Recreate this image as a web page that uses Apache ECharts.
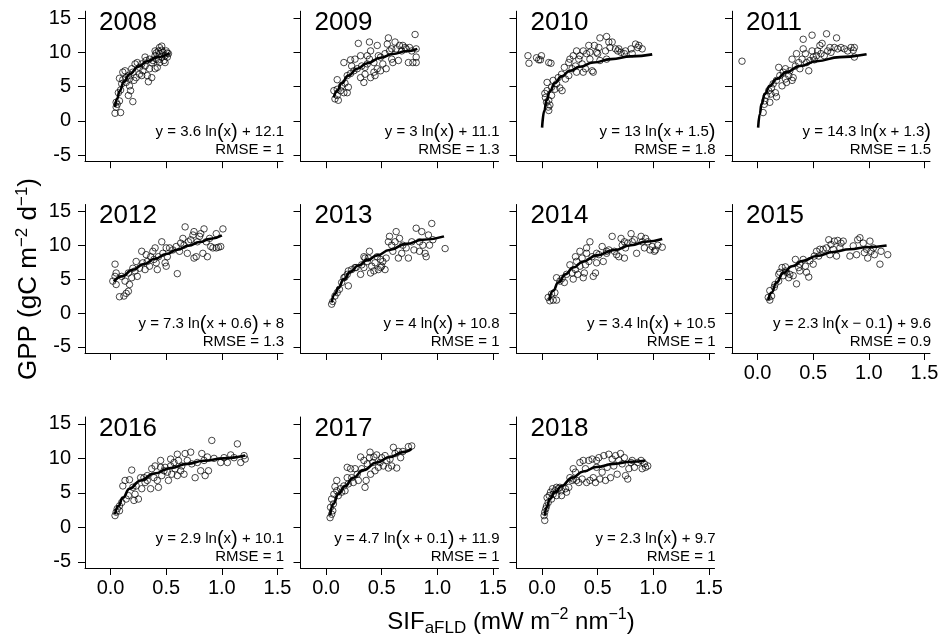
<!DOCTYPE html>
<html><head><meta charset="utf-8">
<script src="https://cdn.jsdelivr.net/npm/echarts@6/dist/echarts.min.js"></script>
<style>html,body{margin:0;padding:0;background:#fff}#c{width:939px;height:639px}</style>
</head><body><div id="c"></div>
<script>
const years = ['2008','2009','2010','2011','2012','2013','2014','2015','2016','2017','2018'];
const equations = ['y = 3.6 ln(x) + 12.1','y = 3 ln(x) + 11.1','y = 13 ln(x + 1.5)','y = 14.3 ln(x + 1.3)',
  'y = 7.3 ln(x + 0.6) + 8','y = 4 ln(x) + 10.8','y = 3.4 ln(x) + 10.5','y = 2.3 ln(x \u2212 0.1) + 9.6',
  'y = 2.9 ln(x) + 10.1','y = 4.7 ln(x + 0.1) + 11.9','y = 2.3 ln(x) + 9.7'];
const rmse = ['1','1.3','1.8','1.5','1.3','1','1','0.9','1','1','1'];
const xTicks = [0, 0.5, 1, 1.5];
const yTicks = [-5, 0, 5, 10, 15];

const pts2008 = [[0.04,1.1],[0.09,1.2],[0.05,2.0],[0.06,2.4],[0.05,2.7],[0.08,2.9],[0.07,4.1],[0.09,4.5],[0.08,6.2],[0.11,6.0],[0.13,7.3],[0.16,6.6],[0.14,5.6],[0.17,5.1],[0.16,3.7],[0.20,2.8],[0.18,4.4],[0.21,5.9],[0.23,6.3],[0.20,7.1],[0.19,7.6],[0.26,6.8],[0.26,7.8],[0.24,8.5],[0.28,8.3],[0.31,8.0],[0.33,6.6],[0.34,5.7],[0.37,6.3],[0.32,8.8],[0.35,9.0],[0.38,8.8],[0.40,9.5],[0.41,9.0],[0.43,10.2],[0.44,9.8],[0.46,10.9],[0.47,10.0],[0.49,9.5],[0.50,10.2],[0.51,9.3],[0.52,9.8],[0.48,8.8],[0.44,8.5],[0.42,7.8],[0.40,7.6],[0.43,8.9],[0.46,9.3],[0.49,8.5],[0.40,10.2],[0.37,8.5],[0.29,7.3],[0.22,8.3],[0.14,6.3],[0.10,5.4],[0.11,7.1],[0.17,6.1],[0.28,6.6],[0.35,7.6],[0.31,9.3],[0.46,10.3],[0.51,9.9],[0.41,9.9],[0.44,10.7]];
const pts2009 = [[0.08,3.2],[0.11,3.0],[0.10,3.7],[0.07,4.4],[0.10,4.6],[0.13,4.4],[0.16,4.1],[0.19,4.1],[0.20,4.9],[0.17,5.5],[0.14,5.1],[0.10,6.0],[0.19,6.6],[0.22,6.9],[0.25,7.3],[0.23,8.0],[0.16,8.5],[0.22,8.9],[0.26,9.0],[0.31,9.5],[0.29,11.3],[0.34,5.6],[0.31,6.3],[0.32,8.0],[0.35,7.8],[0.37,8.3],[0.39,9.0],[0.40,10.2],[0.39,11.5],[0.40,6.3],[0.43,7.1],[0.44,6.6],[0.46,7.6],[0.46,11.0],[0.47,9.5],[0.49,9.3],[0.51,8.3],[0.54,7.6],[0.55,11.2],[0.56,12.1],[0.57,10.2],[0.59,9.0],[0.60,8.5],[0.62,11.5],[0.63,10.5],[0.65,8.8],[0.66,11.0],[0.69,11.0],[0.71,10.7],[0.72,10.5],[0.74,8.5],[0.75,10.7],[0.77,10.2],[0.78,8.5],[0.80,12.6],[0.81,10.5],[0.81,9.3],[0.81,8.5],[0.35,6.8],[0.28,7.6],[0.49,7.3],[0.37,9.5],[0.53,9.8],[0.59,10.5],[0.68,10.2],[0.43,8.5]];
const pts2010 = [[-0.127,9.5],[-0.118,8.4],[-0.05,9.2],[-0.03,8.9],[-0.006,9.5],[-0.015,8.9],[0.06,8.5],[0.08,8.4],[0.04,2.7],[0.055,2.0],[0.06,1.5],[0.07,2.3],[0.03,3.4],[0.025,4.0],[0.045,4.4],[0.06,3.0],[0.085,3.7],[0.045,5.6],[0.085,4.9],[0.115,4.6],[0.13,5.4],[0.16,4.8],[0.18,4.4],[0.10,5.9],[0.145,6.3],[0.175,6.8],[0.21,6.1],[0.24,6.6],[0.20,7.8],[0.24,8.5],[0.27,7.6],[0.30,8.0],[0.31,7.1],[0.33,9.0],[0.34,9.5],[0.36,8.3],[0.37,7.1],[0.39,7.6],[0.40,9.8],[0.42,11.0],[0.43,9.0],[0.45,7.3],[0.46,7.1],[0.47,11.0],[0.49,10.0],[0.50,9.8],[0.51,10.7],[0.52,12.1],[0.52,8.8],[0.57,10.2],[0.58,12.3],[0.60,11.5],[0.61,10.7],[0.63,11.5],[0.66,10.5],[0.68,10.2],[0.69,10.5],[0.71,10.0],[0.74,9.8],[0.75,10.2],[0.80,10.5],[0.81,9.8],[0.84,11.2],[0.86,10.7],[0.87,11.0],[0.90,10.5],[0.58,9.0],[0.25,9.0],[0.28,9.5],[0.31,10.2],[0.37,10.2],[0.43,10.0]];
const pts2011 = [[-0.14,8.7],[0.05,1.2],[0.06,2.4],[0.065,2.9],[0.11,2.7],[0.08,3.7],[0.10,4.4],[0.125,4.8],[0.12,3.9],[0.16,4.1],[0.17,3.5],[0.14,5.4],[0.17,5.9],[0.19,7.8],[0.20,6.6],[0.23,7.1],[0.25,6.1],[0.26,5.6],[0.28,6.6],[0.29,7.3],[0.31,5.9],[0.32,6.3],[0.34,8.0],[0.35,9.8],[0.37,8.5],[0.38,7.6],[0.40,9.0],[0.41,10.5],[0.43,9.8],[0.44,8.5],[0.46,7.3],[0.47,8.8],[0.49,10.2],[0.50,9.3],[0.51,8.9],[0.53,9.5],[0.54,10.2],[0.56,11.0],[0.57,9.8],[0.58,11.3],[0.60,9.5],[0.62,12.7],[0.63,10.2],[0.65,10.7],[0.66,10.0],[0.69,10.7],[0.71,12.1],[0.72,10.5],[0.75,10.7],[0.78,10.5],[0.81,10.2],[0.84,10.7],[0.86,10.3],[0.87,10.7],[0.87,9.3],[0.41,11.9],[0.49,12.5],[0.31,9.0],[0.25,7.6],[0.22,5.1]];
const pts2012 = [[0.04,7.2],[0.05,5.9],[0.04,5.4],[0.02,4.7],[0.05,4.2],[0.08,2.4],[0.12,2.5],[0.14,2.9],[0.16,3.2],[0.10,5.4],[0.13,4.7],[0.17,4.2],[0.19,5.2],[0.16,5.9],[0.20,6.6],[0.22,6.2],[0.24,5.4],[0.26,6.6],[0.28,9.1],[0.29,7.4],[0.31,6.4],[0.33,7.6],[0.35,6.9],[0.36,8.3],[0.38,9.1],[0.39,7.9],[0.40,9.6],[0.42,6.4],[0.43,8.3],[0.46,10.5],[0.47,8.8],[0.49,7.4],[0.50,9.6],[0.51,8.3],[0.53,9.6],[0.56,9.3],[0.60,5.8],[0.62,9.1],[0.63,10.3],[0.65,11.0],[0.66,10.0],[0.67,12.7],[0.69,8.8],[0.70,10.5],[0.72,10.8],[0.74,11.5],[0.75,12.0],[0.75,8.1],[0.77,8.3],[0.78,10.5],[0.80,11.3],[0.81,11.7],[0.83,8.8],[0.84,12.4],[0.86,10.5],[0.87,8.3],[0.89,11.0],[0.90,9.8],[0.92,9.6],[0.95,11.7],[0.97,9.7],[0.99,9.8],[1.01,12.4],[0.95,9.6],[0.23,7.6],[0.41,7.4],[0.50,6.9],[0.32,8.6],[0.59,9.8]];
const pts2013 = [[0.05,1.3],[0.06,1.7],[0.08,2.5],[0.10,3.0],[0.12,3.5],[0.14,4.5],[0.16,5.2],[0.17,5.3],[0.20,4.0],[0.19,5.7],[0.20,6.2],[0.23,6.4],[0.26,6.7],[0.31,5.7],[0.32,7.1],[0.34,6.7],[0.35,8.1],[0.37,7.6],[0.39,9.1],[0.40,5.9],[0.41,6.9],[0.43,6.2],[0.44,7.4],[0.46,8.3],[0.47,6.4],[0.49,6.7],[0.50,6.9],[0.51,7.6],[0.53,6.4],[0.54,8.1],[0.56,10.5],[0.57,11.3],[0.59,10.0],[0.60,9.1],[0.62,10.5],[0.63,12.0],[0.65,8.1],[0.66,11.0],[0.68,8.8],[0.69,10.0],[0.72,9.6],[0.74,8.1],[0.77,10.5],[0.79,9.3],[0.81,12.5],[0.84,10.5],[0.84,9.1],[0.86,12.0],[0.87,10.0],[0.89,8.8],[0.90,8.3],[0.92,11.5],[0.93,10.0],[0.95,13.2],[0.96,10.8],[1.07,9.5],[0.34,8.3],[0.38,8.1],[0.49,7.9],[0.27,6.7]];
const pts2014 = [[0.055,2.3],[0.07,1.8],[0.10,1.9],[0.13,1.9],[0.085,2.8],[0.115,3.0],[0.13,5.2],[0.16,4.7],[0.18,5.1],[0.20,4.5],[0.22,5.7],[0.25,7.1],[0.27,5.9],[0.28,5.0],[0.30,6.4],[0.31,7.6],[0.32,5.7],[0.34,9.1],[0.34,6.9],[0.36,8.1],[0.37,5.2],[0.38,5.9],[0.39,7.1],[0.40,8.8],[0.42,7.6],[0.43,10.5],[0.45,8.3],[0.46,5.4],[0.48,5.9],[0.49,7.4],[0.49,8.8],[0.51,8.6],[0.54,9.8],[0.55,7.6],[0.58,9.1],[0.60,9.3],[0.63,11.3],[0.65,9.1],[0.67,8.6],[0.69,8.3],[0.71,11.0],[0.72,10.0],[0.74,8.1],[0.75,9.6],[0.77,10.3],[0.80,11.7],[0.81,10.5],[0.83,10.8],[0.85,8.8],[0.89,11.3],[0.90,10.5],[0.92,9.6],[0.93,11.0],[0.95,10.5],[0.97,9.3],[0.99,9.8],[1.01,9.1],[1.02,9.3],[1.04,10.0],[1.08,9.7],[0.30,8.3],[0.40,9.6],[0.58,8.8],[0.74,10.5]];
const pts2015 = [[0.096,2.3],[0.11,1.9],[0.126,2.5],[0.11,3.3],[0.15,3.8],[0.156,4.2],[0.19,4.7],[0.20,6.0],[0.22,6.7],[0.23,5.5],[0.25,6.8],[0.26,6.0],[0.28,5.2],[0.29,5.7],[0.32,5.5],[0.34,7.9],[0.35,4.3],[0.37,6.7],[0.38,7.2],[0.41,7.9],[0.43,6.9],[0.44,6.0],[0.46,5.3],[0.47,7.7],[0.50,7.2],[0.51,8.4],[0.53,9.1],[0.55,8.4],[0.56,9.4],[0.59,9.4],[0.62,9.6],[0.64,10.8],[0.65,8.6],[0.66,10.1],[0.68,9.4],[0.69,10.6],[0.71,8.4],[0.72,10.7],[0.74,9.6],[0.75,10.3],[0.77,10.6],[0.83,8.4],[0.86,9.9],[0.89,8.6],[0.90,10.8],[0.92,11.1],[0.95,10.3],[0.96,8.9],[0.98,9.4],[0.99,8.1],[1.01,10.6],[1.02,9.1],[1.04,9.6],[1.05,8.6],[1.10,7.2],[1.11,9.1],[1.17,8.6],[0.19,5.7],[0.25,6.2],[0.38,6.2]];
const pts2016 = [[0.04,1.7],[0.05,2.2],[0.06,2.7],[0.08,3.1],[0.08,2.4],[0.10,3.6],[0.11,6.0],[0.13,6.8],[0.14,4.1],[0.16,4.6],[0.17,6.9],[0.19,8.3],[0.20,5.8],[0.21,3.9],[0.22,4.8],[0.23,6.0],[0.25,4.1],[0.27,7.2],[0.28,5.6],[0.30,7.2],[0.31,6.5],[0.33,7.5],[0.36,5.6],[0.37,8.5],[0.39,7.2],[0.40,8.9],[0.42,6.8],[0.43,5.8],[0.45,8.7],[0.46,7.5],[0.48,8.2],[0.49,8.7],[0.51,8.0],[0.52,6.8],[0.54,9.9],[0.55,7.7],[0.57,9.4],[0.58,8.5],[0.60,10.6],[0.60,7.5],[0.61,9.7],[0.63,8.2],[0.64,8.9],[0.66,7.7],[0.67,10.7],[0.69,9.7],[0.72,10.9],[0.73,9.2],[0.76,7.2],[0.78,9.4],[0.81,8.2],[0.82,10.7],[0.84,9.7],[0.85,7.5],[0.87,10.2],[0.88,8.2],[0.91,12.6],[0.93,10.0],[0.99,9.4],[1.02,10.1],[1.05,9.4],[1.08,10.5],[1.11,10.1],[1.14,12.1],[1.17,9.4],[1.20,10.4],[1.21,9.9],[0.45,9.7],[0.54,8.9],[0.33,6.8]];
const pts2017 = [[0.036,1.4],[0.05,1.9],[0.06,2.4],[0.04,2.9],[0.066,3.4],[0.05,4.1],[0.07,4.8],[0.08,5.9],[0.096,5.3],[0.11,4.6],[0.13,5.6],[0.14,5.1],[0.16,6.0],[0.19,7.2],[0.20,6.3],[0.22,8.5],[0.23,7.2],[0.245,6.5],[0.26,8.5],[0.28,7.7],[0.29,6.8],[0.31,10.2],[0.32,8.5],[0.34,9.7],[0.35,5.8],[0.36,6.8],[0.37,9.2],[0.39,10.1],[0.40,7.7],[0.42,9.4],[0.43,10.2],[0.44,8.2],[0.455,10.5],[0.47,8.7],[0.485,9.4],[0.50,10.1],[0.515,8.9],[0.53,10.4],[0.545,9.7],[0.56,8.6],[0.575,9.9],[0.59,8.9],[0.605,11.6],[0.62,10.7],[0.635,8.6],[0.65,11.0],[0.67,10.1],[0.69,11.0],[0.74,11.7],[0.77,11.8],[0.096,6.8],[0.17,5.3],[0.19,8.7],[0.395,10.9]];
const pts2018 = [[0.024,1.0],[0.018,1.7],[0.024,2.2],[0.033,2.7],[0.04,3.1],[0.055,3.6],[0.045,4.3],[0.064,4.6],[0.076,5.1],[0.085,4.1],[0.094,5.6],[0.10,4.8],[0.115,5.3],[0.13,4.6],[0.145,5.6],[0.16,5.8],[0.175,5.3],[0.21,5.6],[0.22,5.1],[0.24,5.8],[0.25,7.2],[0.27,6.8],[0.28,8.5],[0.30,8.0],[0.31,6.8],[0.33,6.5],[0.34,9.4],[0.36,7.0],[0.37,9.7],[0.39,8.5],[0.40,6.5],[0.42,9.7],[0.43,6.8],[0.45,9.9],[0.46,7.2],[0.48,6.5],[0.49,8.7],[0.51,10.1],[0.52,7.0],[0.54,8.0],[0.555,10.4],[0.57,6.8],[0.585,8.7],[0.60,10.6],[0.615,7.2],[0.63,9.9],[0.645,8.9],[0.66,10.4],[0.675,7.7],[0.69,9.7],[0.705,10.7],[0.72,9.2],[0.74,10.1],[0.75,7.5],[0.77,7.0],[0.78,8.5],[0.80,9.4],[0.81,9.7],[0.83,8.7],[0.86,9.4],[0.89,9.7],[0.90,8.5],[0.92,9.2],[0.93,8.7],[0.95,8.9],[0.13,5.8],[0.175,4.6],[0.28,7.0],[0.49,9.7]];

const fit2008 = [[0.04,2.0],[0.06,3.3],[0.08,4.3],[0.12,5.7],[0.17,6.8],[0.25,7.9],[0.33,8.7],[0.42,9.3],[0.53,9.9]];
const fit2009 = [[0.07,3.4],[0.10,4.4],[0.14,5.5],[0.20,6.6],[0.28,7.6],[0.37,8.4],[0.49,9.2],[0.60,9.75],[0.72,10.15],[0.82,10.5]];
const fit2010 = [[0.0,-1.0],[0.02,1.5],[0.04,3.0],[0.07,4.3],[0.115,5.5],[0.175,6.5],[0.25,7.3],[0.34,7.9],[0.46,8.5],[0.62,9.0],[0.80,9.4],[0.99,9.7]];
const fit2011 = [[0.005,-1.0],[0.02,1.0],[0.035,2.4],[0.065,3.9],[0.11,5.1],[0.17,6.1],[0.26,7.1],[0.38,8.0],[0.53,8.7],[0.74,9.3],[0.98,9.7]];
const fit2012 = [[0.03,4.63],[0.1,5.40],[0.2,6.37],[0.3,7.23],[0.4,8.0],[0.5,8.70],[0.6,9.33],[0.7,9.92],[0.8,10.46],[0.9,10.96],[1.0,11.43]];
const fit2013 = [[0.05,1.55],[0.08,2.8],[0.11,3.7],[0.16,5.0],[0.22,6.1],[0.29,7.0],[0.37,7.8],[0.46,8.5],[0.57,9.3],[0.72,10.2],[0.87,10.8],[1.06,11.3]];
const fit2014 = [[0.064,1.9],[0.10,3.3],[0.145,4.5],[0.21,5.7],[0.28,6.7],[0.37,7.6],[0.49,8.5],[0.65,9.3],[0.80,10.0],[0.93,10.5],[1.08,10.9]];
const fit2015 = [[0.096,1.9],[0.126,3.0],[0.17,4.5],[0.23,5.9],[0.31,6.9],[0.41,7.7],[0.53,8.4],[0.68,9.0],[0.83,9.4],[0.98,9.7],[1.16,9.95]];
const fit2016 = [[0.04,1.9],[0.07,3.1],[0.11,4.3],[0.17,5.6],[0.27,6.8],[0.39,7.8],[0.54,8.6],[0.69,9.2],[0.84,9.65],[1.02,10.0],[1.21,10.4]];
const fit2017 = [[0.036,1.7],[0.066,3.4],[0.11,4.8],[0.17,6.0],[0.245,7.2],[0.335,8.3],[0.455,9.4],[0.575,10.2],[0.69,10.9],[0.77,11.4]];
const fit2018 = [[0.024,1.7],[0.04,2.9],[0.07,4.1],[0.115,5.1],[0.175,6.0],[0.27,7.2],[0.37,8.1],[0.49,8.75],[0.645,9.2],[0.80,9.5],[0.93,9.7]];

const pts = [pts2008,pts2009,pts2010,pts2011,pts2012,pts2013,pts2014,pts2015,pts2016,pts2017,pts2018];
const fits = [fit2008,fit2009,fit2010,fit2011,fit2012,fit2013,fit2014,fit2015,fit2016,fit2017,fit2018];

const FONT = '"Liberation Sans", Arial, Helvetica, sans-serif';
const colLeft = [85, 300.5, 516.5, 732];
const rowTop = [11.2, 204.5, 417];
const rowH = [150, 148.5, 151];
const panelW = 198;

const grids = [], xAxes = [], yAxes = [], series = [], graphics = [];
years.forEach((yr, i) => {
  const r = Math.floor(i / 4), c = i % 4;
  const left = colLeft[c], top = rowTop[r], h = rowH[r];
  grids.push({left: left, top: top, width: panelW, height: h, containLabel: false, outerBoundsMode: 'none'});
  const showX = (r === 2) || (i === 7);
  xAxes.push({
    type: 'value', gridIndex: i, min: -0.23, max: 1.55, splitLine: {show: false},
    axisLine: {show: true, onZero: false, lineStyle: {color: '#000', width: 1}},
    axisTick: {show: true, length: 7, customValues: xTicks, lineStyle: {color: '#000', width: 1}},
    axisLabel: {show: showX, customValues: xTicks, formatter: v => Number(v).toFixed(1), color: '#000',
      fontSize: 20, fontFamily: FONT, margin: 10, hideOverlap: false}
  });
  yAxes.push({
    type: 'value', gridIndex: i, min: -5.9, max: 16, splitLine: {show: false},
    axisLine: {show: true, onZero: false, lineStyle: {color: '#000', width: 1}},
    axisTick: {show: true, length: 7, customValues: yTicks, lineStyle: {color: '#000', width: 1}},
    axisLabel: {show: c === 0, customValues: yTicks, color: '#000', fontSize: 20, fontFamily: FONT, margin: 14, hideOverlap: false}
  });
  series.push({
    type: 'scatter', xAxisIndex: i, yAxisIndex: i, data: pts[i], symbol: 'circle', symbolSize: 6.5,
    itemStyle: {color: 'rgba(0,0,0,0)', borderColor: '#000', borderWidth: 0.9}, silent: true, z: 2
  });
  series.push({
    type: 'line', xAxisIndex: i, yAxisIndex: i, data: fits[i], smooth: 0.5, smoothMonotone: 'x',
    showSymbol: false, symbol: 'none', lineStyle: {color: '#000', width: 2.6}, silent: true, z: 3
  });
  graphics.push({type: 'text', x: left + 14, y: top - 1.5, silent: true,
    style: {text: yr, fontSize: 26, fontFamily: FONT, fill: '#000', align: 'left', verticalAlign: 'top',
      textAlign: 'left', textVerticalAlign: 'top'}});
  const eqRich = equations[i].replace(/([()])/g, '{p|$1}');
  graphics.push({type: 'text', x: left + panelW + 1, y: top + h - 29, silent: true,
    style: {text: eqRich, fontSize: 15, fontFamily: FONT, fill: '#000', align: 'right', verticalAlign: 'middle',
      textAlign: 'right', textVerticalAlign: 'middle',
      rich: {p: {fontSize: 20, fontFamily: FONT, fill: '#000'}}}});
  graphics.push({type: 'text', x: left + panelW + 1, y: top + h - 11, silent: true,
    style: {text: 'RMSE = ' + rmse[i], fontSize: 15, fontFamily: FONT, fill: '#000', align: 'right', verticalAlign: 'middle',
      textAlign: 'right', textVerticalAlign: 'middle'}});
});

graphics.push({type: 'text', x: 29, y: 279, rotation: Math.PI / 2, silent: true,
  style: {text: 'GPP (gC m{sup|\u22122} d{sup|\u22121})', fontSize: 26, fontFamily: FONT, fill: '#000', lineHeight: 30,
    align: 'center', verticalAlign: 'middle', textAlign: 'center', textVerticalAlign: 'middle',
    rich: {sup: {fontSize: 17, lineHeight: 17, fontFamily: FONT, fill: '#000', verticalAlign: 'top'}}}});
graphics.push({type: 'text', x: 511, y: 622, silent: true,
  style: {text: 'SIF{sub|aFLD} (mW m{sup|\u22122} nm{sup|\u22121})', fontSize: 24, fontFamily: FONT, fill: '#000', lineHeight: 30,
    align: 'center', verticalAlign: 'middle', textAlign: 'center', textVerticalAlign: 'middle',
    rich: {sup: {fontSize: 16, lineHeight: 16, fontFamily: FONT, fill: '#000', verticalAlign: 'top'},
           sub: {fontSize: 17, lineHeight: 17, fontFamily: FONT, fill: '#000', verticalAlign: 'bottom'}}}});

const chart = echarts.init(document.getElementById('c'), null, {renderer: 'canvas'});
chart.setOption({
  animation: false,
  backgroundColor: '#fff',
  textStyle: {fontFamily: FONT},
  grid: grids, xAxis: xAxes, yAxis: yAxes, series: series,
  graphic: {elements: graphics}
});
</script></body></html>
